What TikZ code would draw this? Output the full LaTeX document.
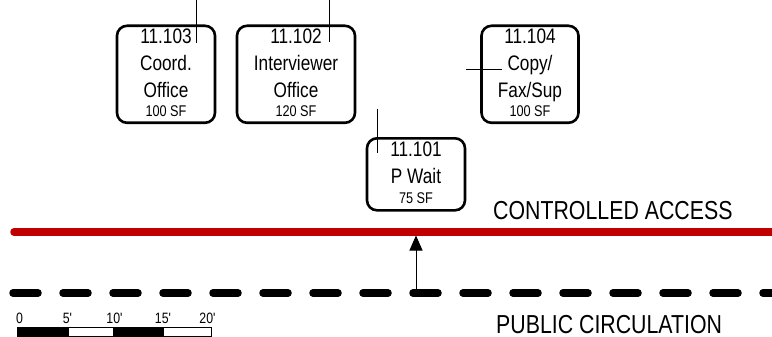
\documentclass[tikz,border=0pt]{standalone}
\usepackage{fontspec}
\setmainfont{Liberation Sans}
\newfontfamily\nar[FakeStretch=0.82]{Liberation Sans}
\usetikzlibrary{arrows.meta}
\definecolor{accred}{HTML}{C00000}
\tikzset{
  room/.style={draw, line width=2.6pt, rounded corners=10pt, inner sep=0pt, anchor=north},
  big/.style={font=\nar\fontsize{21}{25}\selectfont, anchor=base, inner sep=0pt},
  small/.style={font=\nar\fontsize{15.5}{18}\selectfont, anchor=base, inner sep=0pt},
  leader/.style={line width=0.8pt},
  zone/.style={font=\nar\fontsize{26}{30}\selectfont, anchor=base west, inner sep=0pt},
  scl/.style={font=\nar\fontsize{15}{18}\selectfont, anchor=base, inner sep=0pt},
  barblk/.style={draw=black, fill=black, line width=1pt},
  barwht/.style={draw=black, fill=white, line width=1pt},
}
\begin{document}
\begin{tikzpicture}[x=1pt,y=-1pt]
\useasboundingbox (0,0) rectangle (772,337);
% rooms
\node[room, minimum width=98pt, minimum height=97pt] (r103) at (166,24.5) {};
\node[room, minimum width=118pt, minimum height=97pt] (r102) at (296,24.5) {};
\node[room, minimum width=97pt, minimum height=97pt] (r104) at (530,24.5) {};
\node[room, minimum width=98pt, minimum height=72pt] (r101) at (416,137) {};
% texts 103
\node[big] (t103a) at (166,44) {11.103};
\node[big] (t103b) at (166,71) {Coord.};
\node[big] (t103c) at (166,98) {Office};
\node[small] (t103d) at (166,117) {100 SF};
% texts 102
\node[big] (t102a) at (296,44) {11.102};
\node[big] (t102b) at (296,71) {Interviewer};
\node[big] (t102c) at (296,98) {Office};
\node[small] (t102d) at (296,117) {120 SF};
% texts 104
\node[big] (t104a) at (530,44) {11.104};
\node[big] (t104b) at (530,71) {Copy/};
\node[big] (t104c) at (530,98) {Fax/Sup};
\node[small] (t104d) at (530,117) {100 SF};
% texts 101
\node[big] (t101a) at (416,157) {11.101};
\node[big] (t101b) at (416,183) {P Wait};
\node[small] (t101c) at (416,203) {75 SF};
% leaders
\coordinate (l103a) at (196,0); \coordinate (l103b) at (196,43);
\coordinate (l102a) at (329,0); \coordinate (l102b) at (329,42);
\coordinate (l101a) at (377,109); \coordinate (l101b) at (377,153);
\coordinate (l104a) at (466,69); \coordinate (l104b) at (502,69);
\draw[leader] (l103a) -- (l103b);
\draw[leader] (l102a) -- (l102b);
\draw[leader] (l101a) -- (l101b);
\draw[leader] (l104a) -- (l104b);
% controlled access line
\coordinate (ca1) at (14,232); \coordinate (ca2) at (776,232);
\draw[accred, line width=7.5pt, line cap=round] (ca1) -- (ca2);
% public circulation dashed line
\coordinate (pc1) at (13,293); \coordinate (pc2) at (780,293);
\draw[black, line width=7.5pt, line cap=round, dash pattern=on 25pt off 25pt] (pc1) -- (pc2);
% arrow
\coordinate (ar0) at (416,293); \coordinate (ar1) at (416,235.5);
\draw[line width=1pt, -{Triangle[width=13pt,length=15pt]}] (ar0) -- (ar1);
% zone labels
\node[zone] (zca) at (493,219) {CONTROLLED ACCESS};
\node[zone] (zpc) at (496,333) {PUBLIC CIRCULATION};
% scale bar
\draw[barblk] (17,327) rectangle (68,336);
\draw[barwht] (68,327) rectangle (113,336);
\draw[barblk] (113,327) rectangle (163,336);
\draw[barwht] (163,327) rectangle (211,336);
\node[scl] (s0) at (19.5,323) {0};
\node[scl] (s5) at (67.5,323) {5'};
\node[scl] (s10) at (114.5,323) {10'};
\node[scl] (s15) at (163,323) {15'};
\node[scl] (s20) at (207.5,323) {20'};
\end{tikzpicture}
\end{document}
